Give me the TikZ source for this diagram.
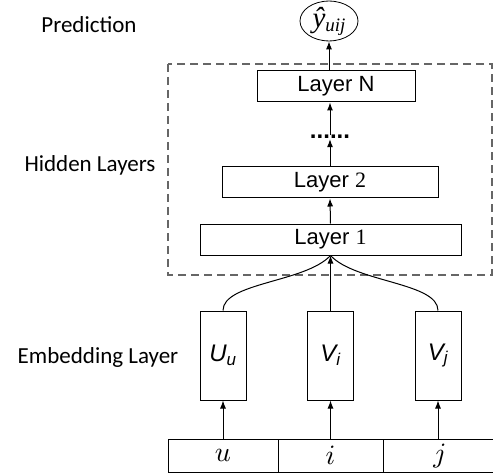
\documentclass[tikz,border=0pt]{standalone}
\usepackage{graphicx}
\usepackage{fontspec}
\setmainfont{Liberation Serif}
\newfontfamily\sidefont{Carlito}
\newfontfamily\boxfont{Liberation Sans}
\usetikzlibrary{shapes.geometric,arrows.meta}

\begin{document}
\begin{tikzpicture}[x=1pt, y=-1pt,
   layer/.style={draw, line width=1pt, minimum height=31pt, inner sep=0pt, font=\boxfont\fontsize{22}{24}\selectfont},
   embbox/.style={draw, line width=1pt, minimum width=46pt, minimum height=89pt, inner sep=0pt, font=\boxfont\itshape\fontsize{24}{26}\selectfont},
   cell/.style={draw, line width=1pt, minimum height=33pt, inner sep=0pt},
   side/.style={anchor=base, font=\sidefont\fontsize{23}{25}\selectfont},
   link/.style={line width=1pt, -{Latex[length=8pt, width=6pt]}}]

   \clip (0,0) rectangle (493,476);

   % labels on the left
   \node [side] (pred) at (89,33) {Prediction};
   \node [side] (hidden) at (90,172) {Hidden Layers};
   \node [side] (embed) at (98,363) {Embedding Layer};

   % output
   \node [draw, ellipse, line width=0.8pt, minimum width=58pt, minimum height=39pt, inner sep=0pt] (out) at (329,21)
      {\itshape\fontsize{29}{30}\selectfont\^{y}\raisebox{-0.3ex}{\fontsize{19}{19}\selectfont uij}};

   % hidden layers
   \draw [gray!80!black, line width=1.2pt, dash pattern=on 8pt off 5pt] (168,64) rectangle (492,275);
   \node [layer, minimum width=158pt] (ln) at (336,86.5) {Layer N};
   \node [anchor=base, inner sep=0pt, font=\boxfont\bfseries\fontsize{24}{26}\selectfont] (dots) at (330,139) {......};
   \node [layer, minimum width=216pt] (l2) at (330,182.5) {Layer {\rmfamily 2}};
   \node [layer, minimum width=261pt] (l1) at (330.5,239.5) {Layer {\rmfamily 1}};

   \draw [link] (out.south |- ln.north) -- (out.south);
   \draw [link] (dots.north) -- (dots.north |- ln.south);
   \draw [link] (l2.north) -- (dots.south);
   \draw [link] (l1.north) -- (l2.south);

   % embedding layer
   \node [embbox] (uu) at (223,355.5) {U\textsubscript{\fontsize{17}{17}\selectfont u}};
   \node [embbox] (vi) at (330.5,355.5) {V\textsubscript{\fontsize{17}{17}\selectfont i}};
   \node [embbox] (vj) at (438,355.5) {V\textsubscript{\fontsize{17}{17}\selectfont j}};

   \draw [link] (vi.north) -- (l1.south);
   \draw [line width=1pt] (uu.north) .. controls +(0,-28) and +(-25,27) .. (l1.south);
   \draw [line width=1pt] (vj.north) .. controls +(0,-28) and +(25,27) .. (l1.south);

   % input
   \node [cell, minimum width=110pt] (cu) at (223,455.5) {\scalebox{2.8}{$u$}};
   \node [cell, minimum width=105pt] (ci) at (330.5,455.5) {\scalebox{2.8}{$i$}};
   \node [cell, minimum width=114pt] (cj) at (440,455.5) {\scalebox{2.8}{$j$}};

   \draw [link] (cu.north) -- (uu.south);
   \draw [link] (vi.south |- ci.north) -- (vi.south);
   \draw [link] (vj.south |- cj.north) -- (vj.south);

\end{tikzpicture}
\end{document}
